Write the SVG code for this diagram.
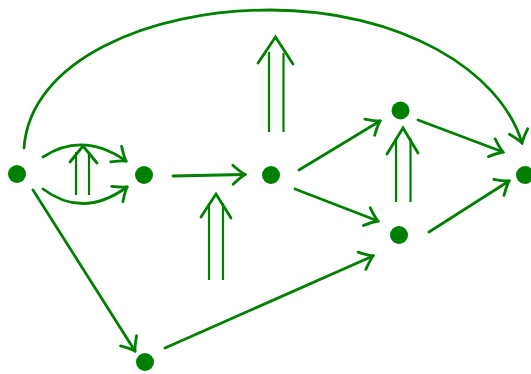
<svg xmlns="http://www.w3.org/2000/svg" width="531" height="374" viewBox="0 0 531 374">
<style>
.n{fill:#008000}
.e{fill:none;stroke:#008000;stroke-width:2.8;stroke-linecap:round;marker-end:url(#ah)}
.d{fill:none;stroke:#008000;stroke-width:2.2;stroke-linecap:butt}
.h{fill:none;stroke:#008000;stroke-width:2.8;stroke-linecap:round;stroke-linejoin:miter}
</style>
<defs>
<marker id="ah" markerUnits="userSpaceOnUse" viewBox="-14 -12 16 24" markerWidth="16" markerHeight="24" refX="0" refY="0" orient="auto">
<path d="M-12,-9.5 Q-5,-3 0,0 Q-5,3 -12,9.5" fill="none" stroke="#008000" stroke-width="2.8" stroke-linecap="round"/>
</marker>
</defs>
<g id="connectors">
<path class="e" d="M24,148 C30,60 150,10 270,10 C400,10 500,70 522,143"/>
<path class="e" d="M43,157 Q83,131 126,161"/>
<path class="e" d="M43,189 Q83,219 127,187"/>
<path class="e" d="M173,176 L245,174.5"/>
<path class="e" d="M299,170 L380,121"/>
<path class="e" d="M295,189 L378,221"/>
<path class="e" d="M418,120 L503,152"/>
<path class="e" d="M429,232 L509,181"/>
<path class="e" d="M33,190 L135,351"/>
<path class="e" d="M165,348 L373,256"/>
<g id="cell-AB">
<path class="d" d="M76,195 V152 M89,195 V152"/>
<path class="h" d="M70,162 L83,146 L97,163"/>
</g>
<g id="cell-top">
<path class="d" d="M269,132 V52 M283.5,132 V53"/>
<path class="h" d="M258,63 L275.5,37 L293,64"/>
</g>
<g id="cell-mid">
<path class="d" d="M209,280 V203 M223,280 V203"/>
<path class="h" d="M201,217 L216,194 L231,218"/>
</g>
<g id="cell-right">
<path class="d" d="M396,202 V138 M410.5,202 V138"/>
<path class="h" d="M387,154 L403,128 L418,153"/>
</g>
</g>
<g id="nA"><circle class="n" cx="17" cy="174" r="9"/></g>
<g id="nB"><circle class="n" cx="144" cy="175" r="9"/></g>
<g id="nC"><circle class="n" cx="271" cy="175" r="9"/></g>
<g id="nD"><circle class="n" cx="400.5" cy="110.5" r="9"/></g>
<g id="nE"><circle class="n" cx="399" cy="235" r="9"/></g>
<g id="nF"><circle class="n" cx="525" cy="175" r="9"/></g>
<g id="nG"><circle class="n" cx="145" cy="362" r="9"/></g>
</svg>
